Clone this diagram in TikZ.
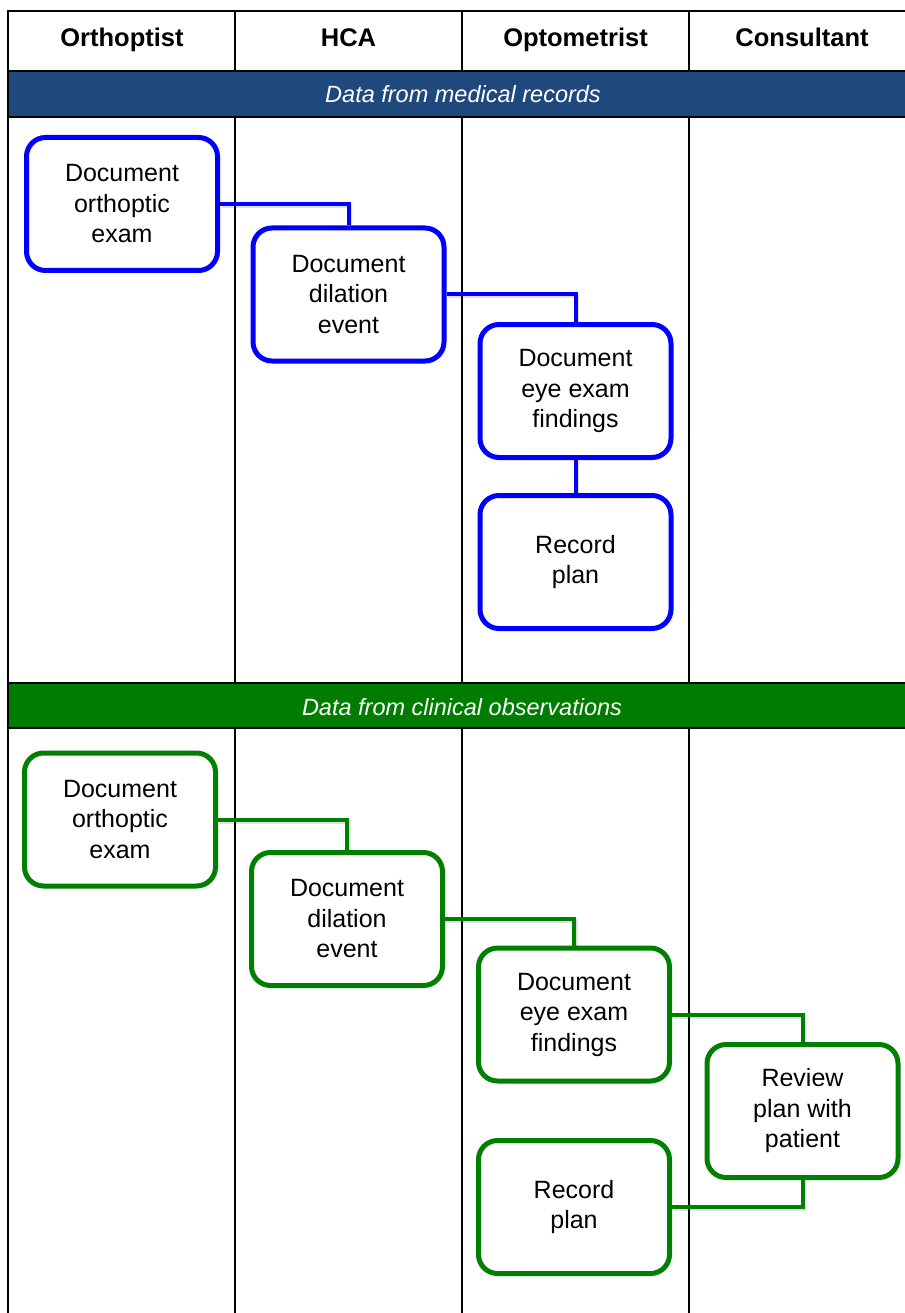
\documentclass[tikz,border=0pt]{standalone}
\usepackage{fontspec}
\setmainfont{Liberation Sans}
\usetikzlibrary{shadows}
\definecolor{bandblue}{RGB}{31,73,125}
\definecolor{bandgreen}{RGB}{0,125,0}
\definecolor{boxblue}{RGB}{0,0,255}
\definecolor{boxgreen}{RGB}{0,128,0}
\tikzset{
  grid/.style={draw=black, line width=1.6pt},
  headtext/.style={font=\fontsize{25.5}{30}\selectfont\bfseries, anchor=base},
  bandtext/.style={font=\fontsize{23.5}{28}\selectfont\itshape, text=white, anchor=base},
  task/.style={rounded corners=19pt, line width=5pt, fill=white, minimum width=191pt, minimum height=133pt,
     align=center, font=\fontsize{25}{30.5}\selectfont, inner sep=0pt,
     drop shadow={opacity=0.18, shadow xshift=1.5pt, shadow yshift=-2pt}},
  bluetask/.style={task, draw=boxblue},
  greentask/.style={task, draw=boxgreen},
  link/.style={line width=4pt, preaction={draw=black, opacity=0.12, line width=4pt, transform canvas={xshift=1.5pt, yshift=-2pt}}},
  bluelink/.style={link, draw=boxblue},
  greenlink/.style={link, draw=boxgreen}
}
\begin{document}
\begin{tikzpicture}[x=1pt, y=-1pt]
\useasboundingbox (0,0) rectangle (904,1313);
% grid
\draw[grid] (8,1313) -- (8,11) -- (920,11);
\draw[grid] (8,71) -- (920,71);
\foreach \cx in {235,462,689} \draw[grid] (\cx,11) -- (\cx,1313);
% bands
\filldraw[grid, fill=bandblue] (8,71) rectangle (920,117);
\filldraw[grid, fill=bandgreen] (8,683) rectangle (920,728);
% header
\node[headtext] (h1) at (122,47) {Orthoptist};
\node[headtext] (h2) at (348.5,47) {HCA};
\node[headtext] (h3) at (575.5,47) {Optometrist};
\node[headtext] (h4) at (802,47) {Consultant};
\node[bandtext] (bd1) at (463,103) {Data from medical records};
\node[bandtext] (bd2) at (462,715) {Data from clinical observations};
% blue section
\node[bluetask] (a1) at (122,204) {Document\\orthoptic\\exam};
\node[bluetask] (a2) at (348.5,294.5) {Document\\dilation\\event};
\node[bluetask] (a3) at (575.5,391) {Document\\eye exam\\findings};
\node[bluetask] (a4) at (575.5,562) {Record\\plan};
\draw[bluelink] (a1.east) -| (a2.north);
\draw[bluelink] (a2.east) -| (a3.north);
\draw[bluelink] (a3.south) -- (a4.north);
% green section
\node[greentask] (g1) at (120,819.5) {Document\\orthoptic\\exam};
\node[greentask] (g2) at (347,919) {Document\\dilation\\event};
\node[greentask] (g3) at (574,1014.5) {Document\\eye exam\\findings};
\node[greentask] (g5) at (802.5,1111) {Review\\plan with\\patient};
\node[greentask] (g4) at (574,1207) {Record\\plan};
\draw[greenlink] (g1.east) -| (g2.north);
\draw[greenlink] (g2.east) -| (g3.north);
\draw[greenlink] (g3.east) -| (g5.north);
\draw[greenlink] (g5.south) |- (g4.east);
\end{tikzpicture}
\end{document}
